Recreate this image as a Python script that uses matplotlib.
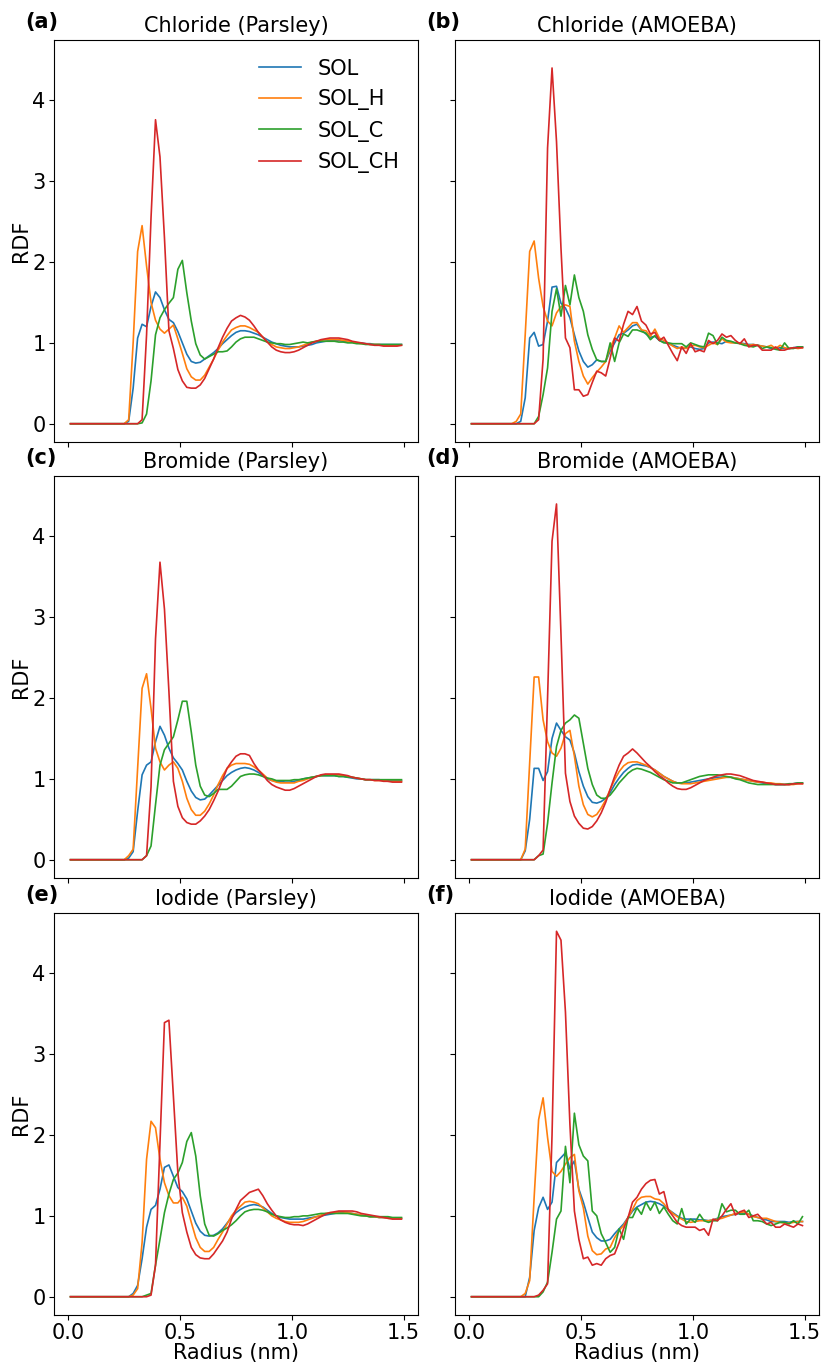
import numpy as np
import matplotlib
matplotlib.use("Agg")
import matplotlib.pyplot as plt

# radial bins (nm)
radius = np.round(np.arange(0.01, 1.5, 0.02), 2)

# ---- Chloride, Parsley
chl_par_sol = [0, 0, 0, 0, 0, 0, 0, 0, 0, 0, 0, 0, 0,
               0.03, 0.44, 1.06, 1.23, 1.20, 1.45, 1.63, 1.56, 1.41, 1.29, 1.25, 1.14, 1.00, 0.86, 0.77, 0.75,
               0.76, 0.80, 0.84, 0.88, 0.93, 0.99, 1.04, 1.09, 1.13, 1.15, 1.15, 1.14, 1.12, 1.10, 1.07, 1.04,
               1.01, 0.99, 0.97, 0.96, 0.95, 0.95, 0.95, 0.96, 0.97, 0.98, 1.00, 1.01, 1.02, 1.03, 1.03, 1.03,
               1.02, 1.02, 1.01, 1.00, 1.00, 0.99, 0.99, 0.98, 0.98, 0.98, 0.98, 0.98, 0.98, 0.98]
chl_par_h = [0, 0, 0, 0, 0, 0, 0, 0, 0, 0, 0, 0, 0,
             0.05, 1.00, 2.13, 2.45, 1.95, 1.50, 1.28, 1.17, 1.12, 1.17, 1.22, 1.05, 0.87, 0.68, 0.58, 0.54,
             0.54, 0.60, 0.70, 0.80, 0.91, 1.01, 1.09, 1.16, 1.19, 1.21, 1.21, 1.19, 1.16, 1.13, 1.07, 1.01,
             0.98, 0.95, 0.94, 0.93, 0.93, 0.94, 0.95, 0.97, 0.99, 1.01, 1.02, 1.03, 1.04, 1.04, 1.04, 1.04,
             1.03, 1.02, 1.01, 1.00, 0.99, 0.99, 0.98, 0.98, 0.98, 0.97, 0.97, 0.97, 0.97, 0.97]
chl_par_c = [0, 0, 0, 0, 0, 0, 0, 0, 0, 0, 0, 0, 0, 0, 0, 0,
             0.01, 0.12, 0.53, 1.10, 1.31, 1.41, 1.49, 1.56, 1.91, 2.02, 1.62, 1.27, 0.99, 0.85, 0.80, 0.83,
             0.86, 0.89, 0.89, 0.90, 0.95, 1.01, 1.05, 1.07, 1.07, 1.07, 1.05, 1.03, 1.01, 1.00, 0.99, 0.99,
             0.98, 0.98, 0.99, 1.00, 1.01, 1.00, 1.01, 1.02, 1.02, 1.02, 1.02, 1.02, 1.01, 1.01, 1.00, 1.00,
             0.99, 0.99, 0.98, 0.98, 0.98, 0.98, 0.98, 0.98, 0.98, 0.98, 0.98]
chl_par_ch = [0, 0, 0, 0, 0, 0, 0, 0, 0, 0, 0, 0, 0, 0, 0, 0,
              0.05, 1.10, 2.55, 3.76, 3.30, 2.30, 1.15, 0.93, 0.67, 0.53, 0.45, 0.44, 0.44, 0.48, 0.56, 0.68,
              0.80, 0.94, 1.07, 1.18, 1.27, 1.31, 1.34, 1.32, 1.28, 1.21, 1.13, 1.07, 1.01, 0.95, 0.91, 0.89,
              0.88, 0.88, 0.89, 0.91, 0.94, 0.97, 1.00, 1.02, 1.04, 1.05, 1.06, 1.06, 1.06, 1.05, 1.04, 1.02,
              1.01, 1.00, 0.99, 0.98, 0.97, 0.97, 0.96, 0.96, 0.96, 0.96, 0.97]

# ---- Chloride, AMOEBA
chl_amo_sol = [0, 0, 0, 0, 0, 0, 0, 0, 0, 0, 0,
               0.03, 0.32, 1.06, 1.13, 0.96, 0.98, 1.27, 1.69, 1.70, 1.49, 1.43, 1.31, 1.10, 0.90, 0.77, 0.70,
               0.73, 0.79, 0.77, 0.77, 0.90, 1.00, 1.10, 1.12, 1.16, 1.21, 1.23, 1.16, 1.11, 1.07, 1.08, 1.03,
               1.01, 0.99, 0.97, 0.95, 0.93, 0.94, 0.95, 0.93, 0.92, 0.93, 1.00, 1.01, 1.00, 0.99, 1.02, 1.01,
               1.00, 1.00, 0.99, 0.98, 0.98, 0.97, 0.96, 0.95, 0.93, 0.93, 0.94, 0.93, 0.93, 0.94, 0.95, 0.95]
chl_amo_h = [0, 0, 0, 0, 0, 0, 0, 0, 0, 0,
             0.03, 0.12, 1.10, 2.13, 2.26, 1.80, 1.45, 1.27, 1.21, 1.37, 1.45, 1.47, 1.45, 1.02, 0.77, 0.59,
             0.49, 0.57, 0.64, 0.70, 0.77, 0.94, 1.06, 1.21, 1.13, 1.19, 1.25, 1.25, 1.16, 1.15, 1.08, 1.17,
             1.06, 1.03, 1.00, 0.96, 0.93, 0.95, 0.93, 0.96, 0.97, 0.95, 0.94, 0.97, 1.00, 0.98, 1.05, 1.01,
             1.00, 1.00, 1.00, 0.98, 0.97, 0.98, 0.97, 0.96, 0.95, 0.97, 0.93, 0.97, 0.94, 0.93, 0.94, 0.93, 0.94]
chl_amo_c = [0, 0, 0, 0, 0, 0, 0, 0, 0, 0, 0, 0, 0, 0, 0,
             0.09, 0.36, 0.69, 1.39, 1.67, 1.33, 1.71, 1.47, 1.84, 1.56, 1.39, 1.10, 0.92, 0.79, 0.77, 0.77,
             1.00, 0.77, 1.00, 1.11, 1.08, 1.16, 1.16, 1.14, 1.12, 1.04, 1.09, 1.03, 1.00, 1.00, 0.99, 0.99,
             0.99, 0.95, 1.00, 0.98, 0.96, 0.95, 1.12, 1.09, 0.98, 1.07, 1.03, 1.02, 1.00, 0.99, 0.97, 0.96,
             0.95, 0.97, 0.93, 0.95, 0.94, 0.92, 0.91, 1.00, 0.93, 0.93, 0.95, 0.95]
chl_amo_ch = [0, 0, 0, 0, 0, 0, 0, 0, 0, 0, 0, 0, 0, 0, 0,
              0.05, 0.80, 3.41, 4.40, 3.49, 2.17, 1.06, 0.94, 0.42, 0.42, 0.34, 0.36, 0.51, 0.65, 0.63, 0.59,
              0.81, 1.06, 1.02, 1.23, 1.39, 1.35, 1.45, 1.27, 1.22, 1.11, 1.13, 1.03, 1.07, 0.97, 0.87, 0.78,
              0.95, 0.87, 0.99, 0.89, 0.91, 0.89, 1.03, 0.99, 1.03, 1.11, 1.07, 1.09, 1.03, 0.99, 1.05, 0.95,
              0.97, 0.97, 0.91, 0.91, 0.91, 0.95, 0.91, 0.91, 0.93, 0.94, 0.94, 0.94]

# ---- Bromide, Parsley
br_par_sol = [0, 0, 0, 0, 0, 0, 0, 0, 0, 0, 0, 0, 0,
              0.02, 0.10, 0.60, 1.05, 1.17, 1.21, 1.46, 1.65, 1.54, 1.38, 1.26, 1.19, 1.11, 0.97, 0.85, 0.77,
              0.74, 0.75, 0.80, 0.86, 0.92, 0.98, 1.04, 1.08, 1.11, 1.13, 1.14, 1.13, 1.11, 1.08, 1.04, 1.00,
              0.98, 0.97, 0.97, 0.96, 0.96, 0.97, 0.98, 1.00, 1.01, 1.02, 1.03, 1.04, 1.04, 1.04, 1.04, 1.03,
              1.03, 1.02, 1.01, 1.00, 1.00, 0.99, 0.99, 0.99, 0.99, 0.98, 0.98, 0.98, 0.98, 0.98]
br_par_h = [0, 0, 0, 0, 0, 0, 0, 0, 0, 0, 0, 0, 0,
            0.05, 0.13, 1.13, 2.12, 2.30, 1.87, 1.38, 1.21, 1.11, 1.17, 1.21, 1.13, 0.97, 0.76, 0.62, 0.55,
            0.55, 0.60, 0.69, 0.80, 0.93, 1.04, 1.13, 1.17, 1.19, 1.19, 1.19, 1.18, 1.15, 1.11, 1.06, 1.01,
            0.98, 0.96, 0.95, 0.95, 0.95, 0.95, 0.97, 0.98, 1.00, 1.02, 1.03, 1.04, 1.05, 1.05, 1.05, 1.05,
            1.04, 1.03, 1.02, 1.01, 1.00, 0.99, 0.99, 0.98, 0.98, 0.98, 0.97, 0.97, 0.97, 0.97]
br_par_c = [0, 0, 0, 0, 0, 0, 0, 0, 0, 0, 0, 0, 0, 0, 0, 0,
            0.00, 0.05, 0.17, 0.68, 1.17, 1.36, 1.44, 1.52, 1.73, 1.96, 1.96, 1.58, 1.17, 0.91, 0.80, 0.78,
            0.82, 0.87, 0.87, 0.87, 0.91, 0.97, 1.03, 1.05, 1.06, 1.06, 1.05, 1.03, 1.01, 1.00, 0.98, 0.98,
            0.98, 0.98, 0.99, 0.99, 1.00, 1.01, 1.02, 1.03, 1.04, 1.04, 1.04, 1.04, 1.03, 1.03, 1.02, 1.02,
            1.01, 1.00, 0.99, 0.99, 0.99, 0.99, 0.99, 0.99, 0.99, 0.99, 0.99]
br_par_ch = [0, 0, 0, 0, 0, 0, 0, 0, 0, 0, 0, 0, 0, 0, 0, 0, 0,
             0.05, 0.90, 2.73, 3.68, 3.10, 2.08, 0.97, 0.66, 0.52, 0.46, 0.44, 0.44, 0.48, 0.54, 0.62, 0.73,
             0.85, 0.99, 1.13, 1.21, 1.28, 1.31, 1.31, 1.29, 1.19, 1.11, 1.05, 0.98, 0.93, 0.90, 0.88, 0.86,
             0.86, 0.88, 0.91, 0.94, 0.97, 1.00, 1.03, 1.05, 1.06, 1.06, 1.06, 1.06, 1.05, 1.04, 1.02, 1.01,
             1.00, 0.99, 0.99, 0.98, 0.98, 0.97, 0.97, 0.96, 0.96, 0.96]

# ---- Bromide, AMOEBA
br_amo_sol = [0, 0, 0, 0, 0, 0, 0, 0, 0, 0, 0, 0,
              0.11, 0.50, 1.13, 1.13, 0.98, 1.09, 1.50, 1.69, 1.60, 1.52, 1.48, 1.32, 1.09, 0.91, 0.78, 0.71,
              0.70, 0.72, 0.76, 0.83, 0.93, 1.01, 1.08, 1.13, 1.17, 1.18, 1.17, 1.16, 1.14, 1.11, 1.07, 1.03,
              1.00, 0.97, 0.95, 0.95, 0.95, 0.96, 0.97, 0.98, 0.99, 1.00, 1.01, 1.02, 1.02, 1.02, 1.02, 1.01,
              1.00, 0.99, 0.98, 0.97, 0.96, 0.95, 0.94, 0.94, 0.93, 0.93, 0.93, 0.93, 0.94, 0.95, 0.95]
br_amo_h = [0, 0, 0, 0, 0, 0, 0, 0, 0, 0, 0, 0,
            0.13, 1.20, 2.26, 2.26, 1.73, 1.46, 1.32, 1.28, 1.38, 1.56, 1.60, 1.28, 0.91, 0.68, 0.56, 0.53,
            0.56, 0.64, 0.74, 0.87, 0.99, 1.09, 1.16, 1.20, 1.21, 1.21, 1.19, 1.17, 1.14, 1.11, 1.07, 1.03,
            1.00, 0.97, 0.95, 0.94, 0.94, 0.94, 0.95, 0.96, 0.97, 0.98, 0.99, 1.00, 1.01, 1.02, 1.02, 1.01,
            1.00, 0.99, 0.98, 0.97, 0.96, 0.96, 0.95, 0.95, 0.94, 0.94, 0.93, 0.93, 0.93, 0.94, 0.94]
br_amo_c = [0, 0, 0, 0, 0, 0, 0, 0, 0, 0, 0, 0, 0, 0, 0,
            0.05, 0.07, 0.45, 0.95, 1.40, 1.60, 1.69, 1.73, 1.79, 1.75, 1.44, 1.13, 0.93, 0.80, 0.76, 0.76,
            0.80, 0.87, 0.95, 1.01, 1.07, 1.11, 1.13, 1.12, 1.10, 1.08, 1.05, 1.02, 0.99, 0.97, 0.95, 0.95,
            0.95, 0.97, 0.99, 1.01, 1.03, 1.04, 1.05, 1.05, 1.05, 1.04, 1.03, 1.02, 1.00, 0.99, 0.97, 0.95,
            0.94, 0.93, 0.93, 0.93, 0.93, 0.93, 0.93, 0.93, 0.94, 0.94, 0.95, 0.95]
br_amo_ch = [0, 0, 0, 0, 0, 0, 0, 0, 0, 0, 0, 0, 0, 0, 0,
             0.05, 0.12, 2.00, 3.94, 4.40, 2.79, 1.07, 0.72, 0.54, 0.45, 0.39, 0.38, 0.41, 0.48, 0.58, 0.71,
             0.87, 1.03, 1.17, 1.28, 1.32, 1.37, 1.32, 1.26, 1.20, 1.15, 1.09, 1.04, 1.00, 0.95, 0.91, 0.88,
             0.87, 0.87, 0.89, 0.92, 0.95, 0.98, 1.00, 1.02, 1.04, 1.05, 1.06, 1.06, 1.05, 1.04, 1.02, 1.00,
             0.98, 0.97, 0.96, 0.95, 0.94, 0.93, 0.93, 0.93, 0.93, 0.94, 0.94, 0.94]

# ---- Iodide, Parsley
io_par_sol = [0, 0, 0, 0, 0, 0, 0, 0, 0, 0, 0, 0, 0, 0,
              0.04, 0.14, 0.47, 0.86, 1.08, 1.13, 1.33, 1.60, 1.63, 1.49, 1.35, 1.30, 1.21, 1.06, 0.91, 0.81,
              0.76, 0.75, 0.76, 0.79, 0.84, 0.91, 0.98, 1.04, 1.08, 1.11, 1.13, 1.14, 1.13, 1.11, 1.07, 1.03,
              1.00, 0.98, 0.97, 0.96, 0.96, 0.96, 0.96, 0.97, 0.98, 0.99, 1.00, 1.01, 1.02, 1.03, 1.04, 1.04,
              1.04, 1.03, 1.02, 1.01, 1.00, 0.99, 0.99, 0.98, 0.98, 0.98, 0.97, 0.97, 0.97]
io_par_h = [0, 0, 0, 0, 0, 0, 0, 0, 0, 0, 0, 0, 0, 0,
            0.02, 0.10, 0.67, 1.70, 2.17, 2.09, 1.70, 1.41, 1.25, 1.16, 1.16, 1.23, 1.12, 0.92, 0.73, 0.61,
            0.56, 0.56, 0.61, 0.71, 0.80, 0.90, 1.00, 1.07, 1.12, 1.17, 1.18, 1.17, 1.15, 1.10, 1.05, 1.00,
            0.97, 0.95, 0.93, 0.92, 0.92, 0.92, 0.93, 0.95, 0.97, 0.99, 1.01, 1.03, 1.04, 1.04, 1.05, 1.05,
            1.04, 1.03, 1.02, 1.01, 1.00, 0.99, 0.99, 0.98, 0.98, 0.97, 0.97, 0.97, 0.97]
io_par_c = [0, 0, 0, 0, 0, 0, 0, 0, 0, 0, 0, 0, 0, 0, 0, 0, 0,
            0.02, 0.04, 0.39, 0.71, 1.04, 1.27, 1.45, 1.53, 1.66, 1.92, 2.03, 1.74, 1.25, 0.90, 0.76, 0.75,
            0.78, 0.82, 0.85, 0.89, 0.94, 1.00, 1.05, 1.07, 1.08, 1.08, 1.07, 1.05, 1.02, 1.00, 0.99, 0.98,
            0.98, 0.99, 0.99, 1.00, 1.00, 1.01, 1.02, 1.03, 1.03, 1.03, 1.03, 1.03, 1.03, 1.03, 1.02, 1.01,
            1.00, 1.00, 0.99, 0.99, 0.99, 0.99, 0.99, 0.98, 0.98, 0.98]
io_par_ch = [0, 0, 0, 0, 0, 0, 0, 0, 0, 0, 0, 0, 0, 0, 0, 0, 0, 0,
             0.02, 0.39, 1.90, 3.39, 3.42, 2.48, 1.53, 1.04, 0.80, 0.61, 0.52, 0.48, 0.47, 0.47, 0.53, 0.61,
             0.69, 0.80, 0.96, 1.08, 1.19, 1.24, 1.29, 1.31, 1.33, 1.25, 1.15, 1.07, 1.00, 0.95, 0.92, 0.90,
             0.89, 0.89, 0.88, 0.90, 0.93, 0.96, 0.99, 1.02, 1.04, 1.05, 1.06, 1.06, 1.06, 1.06, 1.05, 1.03,
             1.02, 1.01, 1.00, 0.99, 0.98, 0.97, 0.96, 0.96, 0.96]

# ---- Iodide, AMOEBA
io_amo_sol = [0, 0, 0, 0, 0, 0, 0, 0, 0, 0, 0, 0, 0,
              0.24, 0.82, 1.10, 1.23, 1.08, 1.17, 1.66, 1.72, 1.78, 1.58, 1.68, 1.33, 1.17, 0.98, 0.80, 0.73,
              0.69, 0.69, 0.71, 0.78, 0.84, 0.90, 0.98, 1.06, 1.11, 1.14, 1.17, 1.18, 1.17, 1.15, 1.12, 1.08,
              1.04, 1.00, 0.97, 0.96, 0.96, 0.96, 0.95, 0.95, 0.94, 0.95, 0.97, 0.99, 1.00, 1.01, 1.02, 1.03,
              1.03, 1.02, 1.00, 0.98, 0.96, 0.95, 0.93, 0.93, 0.93, 0.93, 0.92, 0.93, 0.93, 0.93]
io_amo_h = [0, 0, 0, 0, 0, 0, 0, 0, 0, 0, 0, 0,
            0.04, 0.20, 1.23, 2.19, 2.46, 1.97, 1.55, 1.49, 1.55, 1.64, 1.72, 1.76, 1.31, 1.10, 0.75, 0.57,
            0.52, 0.53, 0.59, 0.61, 0.73, 0.82, 0.88, 0.98, 1.08, 1.19, 1.23, 1.24, 1.24, 1.21, 1.20, 1.15,
            1.08, 1.03, 0.99, 0.96, 0.93, 0.92, 0.93, 0.94, 0.94, 0.94, 0.95, 0.96, 0.97, 0.99, 1.01, 1.03,
            1.04, 1.05, 1.02, 0.99, 0.98, 0.97, 0.97, 0.95, 0.93, 0.92, 0.91, 0.91, 0.92, 0.93, 0.93]
io_amo_c = [0, 0, 0, 0, 0, 0, 0, 0, 0, 0, 0, 0, 0, 0, 0, 0,
            0.06, 0.18, 0.55, 0.96, 1.06, 1.86, 1.41, 2.27, 1.88, 1.74, 1.68, 1.06, 1.00, 0.78, 0.67, 0.55,
            0.61, 0.84, 0.71, 0.98, 0.98, 1.10, 1.02, 1.17, 1.07, 1.17, 1.03, 1.11, 1.02, 0.94, 0.90, 1.09,
            0.90, 0.96, 0.92, 1.02, 0.94, 0.92, 0.94, 0.94, 1.15, 1.05, 1.07, 1.07, 1.02, 1.02, 1.07, 0.94,
            0.94, 0.93, 0.90, 0.88, 0.90, 0.92, 0.92, 0.90, 0.94, 0.90, 0.99]
io_amo_ch = [0, 0, 0, 0, 0, 0, 0, 0, 0, 0, 0, 0, 0, 0, 0,
             0.02, 0.08, 0.16, 2.00, 4.52, 4.41, 3.52, 2.13, 1.06, 0.71, 0.47, 0.49, 0.39, 0.41, 0.39, 0.47,
             0.51, 0.53, 0.67, 0.84, 0.98, 1.17, 1.23, 1.33, 1.40, 1.44, 1.45, 1.27, 1.30, 1.07, 1.00, 0.92,
             0.88, 0.86, 0.86, 0.86, 0.82, 0.84, 0.76, 0.96, 0.94, 1.00, 1.08, 1.15, 1.01, 1.05, 1.07, 0.98,
             1.00, 1.02, 0.96, 0.90, 0.92, 0.86, 0.86, 0.90, 0.88, 0.86, 0.90, 0.88]

panels = [
    ('(a)', 'Chloride (Parsley)', [chl_par_sol, chl_par_h, chl_par_c, chl_par_ch]),
    ('(b)', 'Chloride (AMOEBA)', [chl_amo_sol, chl_amo_h, chl_amo_c, chl_amo_ch]),
    ('(c)', 'Bromide (Parsley)', [br_par_sol, br_par_h, br_par_c, br_par_ch]),
    ('(d)', 'Bromide (AMOEBA)', [br_amo_sol, br_amo_h, br_amo_c, br_amo_ch]),
    ('(e)', 'Iodide (Parsley)', [io_par_sol, io_par_h, io_par_c, io_par_ch]),
    ('(f)', 'Iodide (AMOEBA)', [io_amo_sol, io_amo_h, io_amo_c, io_amo_ch]),
]
series_names = ['SOL', 'SOL_H', 'SOL_C', 'SOL_CH']

W, H = 822, 1366
fig = plt.figure(figsize=(W / 100, H / 100), dpi=100)

lefts = [54, 455]
bottoms = [924, 488, 51]
aw, ah = 364, 402

axes = []
for i, (tag, title, series) in enumerate(panels):
    row, col = divmod(i, 2)
    rect = [lefts[col] / W, bottoms[row] / H, aw / W, ah / H]
    share = axes[0] if axes else None
    ax = fig.add_axes(rect, sharex=share, sharey=share)
    axes.append(ax)
    for name, y in zip(series_names, series):
        ax.plot(radius, y, label=name, lw=1.2)
    ax.set_title(title, fontsize=15)
    ax.text(-0.08, 1.03, tag, transform=ax.transAxes, fontsize=15,
            fontweight='bold', ha='left', va='baseline')
    ax.tick_params(labelsize=15, pad=2.5)
    if col == 0:
        ax.set_ylabel('RDF', fontsize=15, labelpad=1)
    else:
        ax.tick_params(labelleft=False)
    if row == 2:
        ax.set_xlabel('Radius (nm)', fontsize=15, labelpad=0)
    else:
        ax.tick_params(labelbottom=False)

axes[0].set_xticks([0.0, 0.5, 1.0, 1.5])
axes[0].set_yticks([0, 1, 2, 3, 4])
axes[0].legend(loc='upper right', frameon=False, fontsize=15)

fig.savefig('out.png', dpi=100)
